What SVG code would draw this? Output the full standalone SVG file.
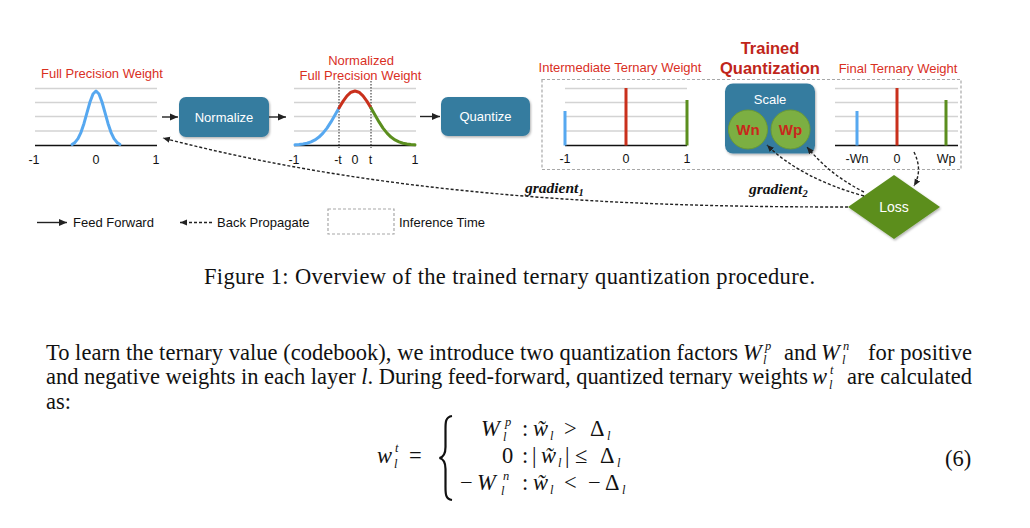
<svg xmlns="http://www.w3.org/2000/svg" width="1030" height="528" viewBox="0 0 1030 528">
<defs>
<style>
.sans{font-family:"Liberation Sans",Arial,sans-serif}
.title{font-family:"Liberation Sans",Arial,sans-serif;font-size:13px;fill:#D9301F;text-anchor:middle}
.tick{font-family:"Liberation Sans",Arial,sans-serif;font-size:12.5px;fill:#111;text-anchor:middle}
.boxlbl{font-family:"Liberation Sans",Arial,sans-serif;font-size:13px;fill:#fff;text-anchor:middle}
.grid{stroke:#D3D3D3;stroke-width:1.5}
.base{stroke:#111;stroke-width:1.5}
.box{fill:#367B9F}
.dash{fill:none;stroke:#222;stroke-width:1.4;stroke-dasharray:3 2}
.solid{fill:none;stroke:#222;stroke-width:1.4}
.curve{fill:none;stroke-width:3;stroke-linecap:round;stroke-linejoin:round}
.grad{font-family:"Liberation Serif","Times New Roman",serif;font-style:italic;font-weight:bold;font-size:15.5px;fill:#111}
.serif{font-family:"Liberation Serif","Times New Roman",serif;font-size:22.5px;fill:#111}
.mi{font-family:"Liberation Serif","Times New Roman",serif;font-style:italic;font-size:22.5px;fill:#111}
.ms{font-family:"Liberation Serif","Times New Roman",serif;font-style:italic;font-size:12.5px;fill:#111}
.mr{font-family:"Liberation Serif","Times New Roman",serif;font-size:22.5px;fill:#111}
</style>
<marker id="headSolid" markerUnits="userSpaceOnUse" markerWidth="9" markerHeight="8" refX="8" refY="4" orient="auto">
<path d="M0,0.5 L8,4 L0,7.5 z" fill="#222"/>
</marker>
<marker id="headDash" markerUnits="userSpaceOnUse" markerWidth="8" markerHeight="7" refX="7" refY="3.5" orient="auto">
<path d="M0,0.5 L7,3.5 L0,6.5 z" fill="#222"/>
</marker>
<filter id="shadow" x="-10%" y="-10%" width="130%" height="140%">
<feDropShadow dx="1" dy="1.5" stdDeviation="1.3" flood-color="#000" flood-opacity="0.3"/>
</filter>
</defs>

<rect width="1030" height="528" fill="#fff"/>

<g id="inference-box">
<rect x="542" y="79.5" width="419" height="90" fill="none" stroke="#A8A8A8" stroke-width="1.2" stroke-dasharray="3 2"/>
</g>

<g id="node-full-precision">
<text class="title" x="102" y="78">Full Precision Weight</text>
<line class="grid" x1="35" y1="88.5" x2="157" y2="88.5"/>
<line class="grid" x1="35" y1="102.5" x2="157" y2="102.5"/>
<line class="grid" x1="35" y1="116.5" x2="157" y2="116.5"/>
<line class="grid" x1="35" y1="131" x2="157" y2="131"/>
<line class="base" x1="35" y1="145.5" x2="157" y2="145.5"/>
<polyline class="curve" stroke="#56A8F0" points="72,144.5 75,142.4 78,138.6 81,132.3 84,123.4 87,112.6 90,102 93,94 96,91 99,94 102,102 105,112.6 108,123.4 111,132.3 114,138.6 117,142.4 120,144.5"/>
<text class="tick" x="34" y="164">-1</text>
<text class="tick" x="96" y="164">0</text>
<text class="tick" x="156" y="164">1</text>
</g>

<g id="node-normalize">
<rect class="box" x="179" y="97" width="90" height="40" rx="7" filter="url(#shadow)"/>
<text class="boxlbl" x="224" y="121.5">Normalize</text>
</g>

<g id="node-normalized">
<text class="title" x="361" y="64.5">Normalized</text>
<text class="title" x="360.5" y="79.5">Full Precision Weight</text>
<line class="grid" x1="294" y1="88.5" x2="416" y2="88.5"/>
<line class="grid" x1="294" y1="102.5" x2="416" y2="102.5"/>
<line class="grid" x1="294" y1="116.5" x2="416" y2="116.5"/>
<line class="grid" x1="294" y1="131" x2="416" y2="131"/>
<line class="base" x1="294" y1="145.5" x2="416" y2="145.5"/>
<line x1="339" y1="81" x2="339" y2="148" stroke="#222" stroke-width="1" stroke-dasharray="1.5 1.5"/>
<line x1="371" y1="81" x2="371" y2="148" stroke="#222" stroke-width="1" stroke-dasharray="1.5 1.5"/>
<polyline class="curve" stroke="#56A8F0" points="295,144.8 299,144.5 303,144 307,143.2 311,141.9 315,139.9 319,137.1 323,133.1 327,128.1 331,121.9 335,115.1 339,108"/>
<polyline class="curve" stroke="#C9301C" points="339,108 343,101.4 347,95.9 351,92.2 355,91 359,92.2 363,95.9 367,101.4 371,108"/>
<polyline class="curve" stroke="#5B8E1E" points="371,108 375,115.1 379,121.9 383,128.1 387,133.1 391,137.1 395,139.9 399,141.9 403,143.2 407,144 411,144.5 415,144.8"/>
<text class="tick" x="294" y="163.5">-1</text>
<text class="tick" x="338" y="163.5">-t</text>
<text class="tick" x="355" y="163.5">0</text>
<text class="tick" x="370.5" y="163.5">t</text>
<text class="tick" x="415" y="163.5">1</text>
</g>

<g id="node-quantize">
<rect class="box" x="441" y="97" width="89" height="39" rx="7" filter="url(#shadow)"/>
<text class="boxlbl" x="485.5" y="121">Quantize</text>
</g>

<g id="node-intermediate">
<text class="title" x="620" y="72">Intermediate Ternary Weight</text>
<line class="grid" x1="565" y1="88.5" x2="687" y2="88.5"/>
<line class="grid" x1="565" y1="102.5" x2="687" y2="102.5"/>
<line class="grid" x1="565" y1="116.5" x2="687" y2="116.5"/>
<line class="grid" x1="565" y1="131" x2="687" y2="131"/>
<line class="base" x1="565" y1="145.5" x2="687" y2="145.5"/>
<rect x="563.5" y="111" width="3" height="34.5" fill="#56A8F0"/>
<rect x="624.5" y="88" width="3" height="57.5" fill="#C9301C"/>
<rect x="685.5" y="100" width="3" height="45.5" fill="#5B8E1E"/>
<text class="tick" x="565" y="163">-1</text>
<text class="tick" x="626" y="163">0</text>
<text class="tick" x="687" y="163">1</text>
</g>

<g id="node-trained-quant">
<text x="770" y="54" text-anchor="middle" font-family="Liberation Sans, Arial, sans-serif" font-weight="bold" font-size="16.5" fill="#C0251A">Trained</text>
<text x="770" y="73.5" text-anchor="middle" font-family="Liberation Sans, Arial, sans-serif" font-weight="bold" font-size="16.5" fill="#C0251A">Quantization</text>
<rect class="box" x="725" y="83.5" width="90" height="70" rx="8" filter="url(#shadow)"/>
<text class="boxlbl" x="770" y="104">Scale</text>
<circle cx="748" cy="129.5" r="19.5" fill="#7CAF42" stroke="#6A9A35" stroke-width="1"/>
<circle cx="790.5" cy="129.5" r="19.5" fill="#7CAF42" stroke="#6A9A35" stroke-width="1"/>
<text x="748" y="135" text-anchor="middle" font-family="Liberation Sans, Arial, sans-serif" font-weight="bold" font-size="15" fill="#C8281C">Wn</text>
<text x="790.5" y="135" text-anchor="middle" font-family="Liberation Sans, Arial, sans-serif" font-weight="bold" font-size="15" fill="#C8281C">Wp</text>
</g>

<g id="node-final">
<text class="title" x="898" y="72.5">Final Ternary Weight</text>
<line class="grid" x1="835" y1="88.5" x2="958" y2="88.5"/>
<line class="grid" x1="835" y1="102.5" x2="958" y2="102.5"/>
<line class="grid" x1="835" y1="116.5" x2="958" y2="116.5"/>
<line class="grid" x1="835" y1="131" x2="958" y2="131"/>
<line class="base" x1="835" y1="145.5" x2="958" y2="145.5"/>
<rect x="855.5" y="111" width="3" height="34.5" fill="#56A8F0"/>
<rect x="895.5" y="88" width="3" height="57.5" fill="#C9301C"/>
<rect x="944.5" y="100" width="3" height="45.5" fill="#5B8E1E"/>
<text class="tick" x="857" y="163">-Wn</text>
<text class="tick" x="897" y="163">0</text>
<text class="tick" x="946" y="163">Wp</text>
</g>

<g id="node-loss">
<polygon points="848,207 894,175 940,207 894,239" fill="#5B8E1C" filter="url(#shadow)"/>
<text x="894" y="212" text-anchor="middle" font-family="Liberation Sans, Arial, sans-serif" font-size="14" fill="#fff">Loss</text>
</g>

<g id="connectors">
<line class="solid" x1="162" y1="117" x2="178" y2="117" marker-end="url(#headSolid)"/>
<line class="solid" x1="269" y1="117" x2="286" y2="117" marker-end="url(#headSolid)"/>
<line class="solid" x1="420" y1="116.5" x2="440" y2="116.5" marker-end="url(#headSolid)"/>
<path class="dash" d="M848,207 C650,207 400,200 163,138" marker-end="url(#headDash)"/>
<path class="dash" d="M864,196 Q800,178 767,145" marker-end="url(#headDash)"/>
<path class="dash" d="M864,192 Q830,175 807,147" marker-end="url(#headDash)"/>
<path class="dash" d="M914,152 Q923,170 914,186" marker-end="url(#headDash)"/>
<text class="grad" x="525" y="193">gradient<tspan font-size="10.5" dy="2.5">1</tspan></text>
<text class="grad" x="749" y="194">gradient<tspan font-size="10.5" dy="2.5">2</tspan></text>
</g>

<g id="legend">
<line class="solid" x1="37" y1="222.5" x2="67" y2="222.5" marker-end="url(#headSolid)"/>
<text class="sans" x="73" y="227" font-size="13" fill="#111">Feed Forward</text>
<line class="dash" x1="212" y1="222.5" x2="180" y2="222.5" marker-end="url(#headDash)"/>
<text class="sans" x="217" y="227" font-size="13" fill="#111">Back Propagate</text>
<rect x="328" y="209" width="66" height="25" fill="none" stroke="#A8A8A8" stroke-width="1.2" stroke-dasharray="3 2"/>
<text class="sans" x="399" y="227" font-size="13" fill="#111">Inference Time</text>
</g>

<g id="caption">
<text class="serif" x="204" y="284" textLength="611" lengthAdjust="spacing">Figure 1: Overview of the trained ternary quantization procedure.</text>
</g>

<g id="paragraph">
<text class="serif" x="46" y="360" textLength="692" lengthAdjust="spacing">To learn the ternary value (codebook), we introduce two quantization factors</text>
<text class="mi" x="743" y="360">W</text>
<text class="ms" x="765" y="350">p</text>
<text class="ms" x="763" y="364">l</text>
<text class="serif" x="784" y="360">and</text>
<text class="mi" x="821" y="360">W</text>
<text class="ms" x="843" y="350">n</text>
<text class="ms" x="842" y="364">l</text>
<text class="serif" x="868" y="360" textLength="104" lengthAdjust="spacing">for positive</text>

<text class="serif" x="46" y="384" textLength="762" lengthAdjust="spacing">and negative weights in each layer <tspan font-style="italic">l</tspan>. During feed-forward, quantized ternary weights</text>
<text class="mi" x="812" y="384">w</text>
<text class="ms" x="830" y="374">t</text>
<text class="ms" x="829" y="389">l</text>
<text class="serif" x="847" y="384" textLength="125" lengthAdjust="spacing">are calculated</text>

<text class="serif" x="46" y="409">as:</text>
</g>

<g id="equation">
<text class="mi" x="377" y="463">w</text>
<text class="ms" x="395" y="452">t</text>
<text class="ms" x="394" y="468">l</text>
<text class="mr" x="409" y="463" font-size="25">=</text>
<path d="M452,416 C445,417 445.5,423 445.5,431 L445.5,447 C445.5,453 443.5,457 439.5,458 C443.5,459 445.5,463 445.5,469 L445.5,485 C445.5,493 445,499 452,500" fill="none" stroke="#111" stroke-width="2.2"/>

<text class="mi" x="481" y="436">W</text>
<text class="ms" x="505" y="426">p</text>
<text class="ms" x="503" y="441">l</text>
<text class="mr" x="522" y="436">:</text>
<text class="mi" x="533" y="436">w̃</text>
<text class="ms" x="550" y="440">l</text>
<text class="mr" x="564" y="436">&gt;</text>
<text class="mr" x="590" y="436">Δ</text>
<text class="ms" x="607" y="440">l</text>

<text class="mr" x="502" y="463">0</text>
<text class="mr" x="522" y="463">:</text>
<text class="mr" x="532" y="463">|</text>
<text class="mi" x="541" y="463">w̃</text>
<text class="ms" x="558" y="467">l</text>
<text class="mr" x="565" y="463">|</text>
<text class="mr" x="575" y="463">≤</text>
<text class="mr" x="600" y="463">Δ</text>
<text class="ms" x="617" y="467">l</text>

<text class="mr" x="460" y="490">−</text>
<text class="mi" x="477" y="490">W</text>
<text class="ms" x="503" y="480">n</text>
<text class="ms" x="501" y="495">l</text>
<text class="mr" x="522" y="490">:</text>
<text class="mi" x="533" y="490">w̃</text>
<text class="ms" x="550" y="494">l</text>
<text class="mr" x="564" y="490">&lt;</text>
<text class="mr" x="588" y="490">−</text>
<text class="mr" x="605" y="490">Δ</text>
<text class="ms" x="622" y="494">l</text>

<text class="mr" x="945" y="466">(6)</text>
</g>
</svg>
